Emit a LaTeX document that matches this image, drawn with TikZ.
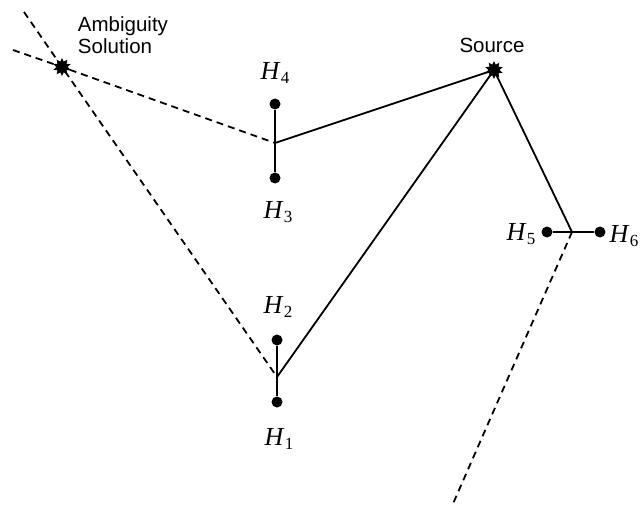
\documentclass[tikz,border=0pt]{standalone}
\usepackage{fontspec}
\setmainfont{Liberation Serif}
\setsansfont{Liberation Sans}
\usetikzlibrary{shapes.geometric}

\newcommand{\hlab}[1]{\textit{H}\kern0.5pt\raisebox{-0.35ex}{\fontsize{17}{17}\selectfont #1}}

\tikzset{
    sensor/.style={fill=black, circle, inner sep=0pt, minimum size=11pt},
    burst/.style={fill=black, star, star points=10, star point ratio=1.6, inner sep=0pt, minimum size=18pt},
    hname/.style={font=\fontsize{26}{26}\selectfont},
    tname/.style={font=\sffamily\fontsize{20.5}{22}\selectfont, align=left},
    track/.style={line width=1.8pt},
    guess/.style={line width=1.8pt, dash pattern=on 7pt off 5pt}
}

\begin{document}
\begin{tikzpicture}[x=1pt, y=-1pt]
        \useasboundingbox (0,0) rectangle (640,508);

        % Sources
        \node[burst] (amb) at (62,67) {};
        \node[burst] (src) at (494,70) {};

        \node[tname] (ambtxt) at (123,35) {Ambiguity\\Solution};
        \node[tname] (srctxt) at (492,45) {Source};

        % Sensors
        \node[sensor] (h4) at (275,104) {};
        \node[sensor] (h3) at (275,178) {};
        \node[sensor] (h2) at (277,340) {};
        \node[sensor] (h1) at (277,402) {};
        \node[sensor] (h5) at (547,232) {};
        \node[sensor] (h6) at (600,232) {};

        \coordinate (m34) at (275,143);
        \coordinate (m12) at (277,377);
        \coordinate (m56) at (572,232);

        \node[hname] (l4) at (275,73) {\hlab{4}};
        \node[hname] (l3) at (278,212) {\hlab{3}};
        \node[hname] (l2) at (278,307) {\hlab{2}};
        \node[hname] (l1) at (279,439) {\hlab{1}};
        \node[hname] (l5) at (521,234) {\hlab{5}};
        \node[hname] (l6) at (624,236) {\hlab{6}};

        % Free ends of the dashed lines
        \coordinate (far1) at (13,50);
        \coordinate (far2) at (24,12);
        \coordinate (far3) at (452,506);

        % Draw edges of the sensor pairs
        \draw[track] (h4) -- (h3);
        \draw[track] (h2) -- (h1);
        \draw[track] (h5) -- (h6);

        % Draw edges from the pairs to the source
        \draw[track] (m34) -- (src.center);
        \draw[track] (m12) -- (src.center);
        \draw[track] (src.center) -- (m56);

        % Draw the ambiguous bearings
        \draw[guess] (far1) -- (amb.center) -- (m34);
        \draw[guess] (far2) -- (amb.center) -- (m12);
        \draw[guess] (m56) -- (far3);

\end{tikzpicture}
\end{document}
